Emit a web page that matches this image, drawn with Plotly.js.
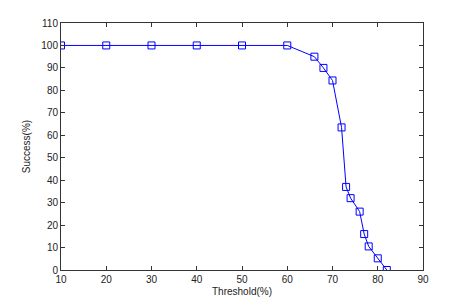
<!DOCTYPE html>
<html><head><meta charset="utf-8">
<script src="https://cdn.plot.ly/plotly-3.0.1.min.js"></script>
<style>html,body{margin:0;padding:0;background:#fff}#c{width:466px;height:303px}</style>
</head><body><div id="c"></div>
<script>
const threshold = [10, 20, 30, 40, 50, 60, 66, 68, 70, 72, 73, 74, 76, 77, 78, 80, 82];
const success   = [100, 100, 100, 100, 100, 100, 95, 90, 84.4, 63.5, 37, 32, 26, 16, 10.5, 5.2, 0];
const xTicks = [10, 20, 30, 40, 50, 60, 70, 80, 90];
const yTicks = [0, 10, 20, 30, 40, 50, 60, 70, 80, 90, 100, 110];

const tickFont = {family: 'Liberation Sans, Arial, sans-serif', size: 10, color: '#222'};
const axisCommon = {
  showgrid: false, zeroline: false, showline: true, linecolor: '#333', linewidth: 1,
  mirror: 'ticks', ticks: 'inside', ticklen: 4, tickcolor: '#333', tickfont: tickFont
};
Plotly.newPlot('c', [{
  x: threshold, y: success, type: 'scatter', mode: 'lines+markers',
  line: {color: '#0000ff', width: 1},
  marker: {symbol: 'square-open', size: 7, color: '#0000ff', line: {width: 1}}
}], {
  width: 466, height: 303,
  margin: {l: 61, r: 43, t: 23, b: 33, pad: 0},
  paper_bgcolor: '#fff', plot_bgcolor: '#fff',
  showlegend: false,
  xaxis: Object.assign({}, axisCommon, {range: [10, 90], tickvals: xTicks, ticktext: xTicks.map(String),
    title: {text: 'Threshold(%)', font: {family: 'Liberation Sans, Arial, sans-serif', size: 10, color: '#222'}, standoff: 3}}),
  yaxis: Object.assign({}, axisCommon, {range: [0, 110], tickvals: yTicks, ticktext: yTicks.map(String),
    title: {text: 'Success(%)', font: {family: 'Liberation Sans, Arial, sans-serif', size: 10, color: '#222'}, standoff: 8}})
}, {displayModeBar: false, staticPlot: true});
</script></body></html>
